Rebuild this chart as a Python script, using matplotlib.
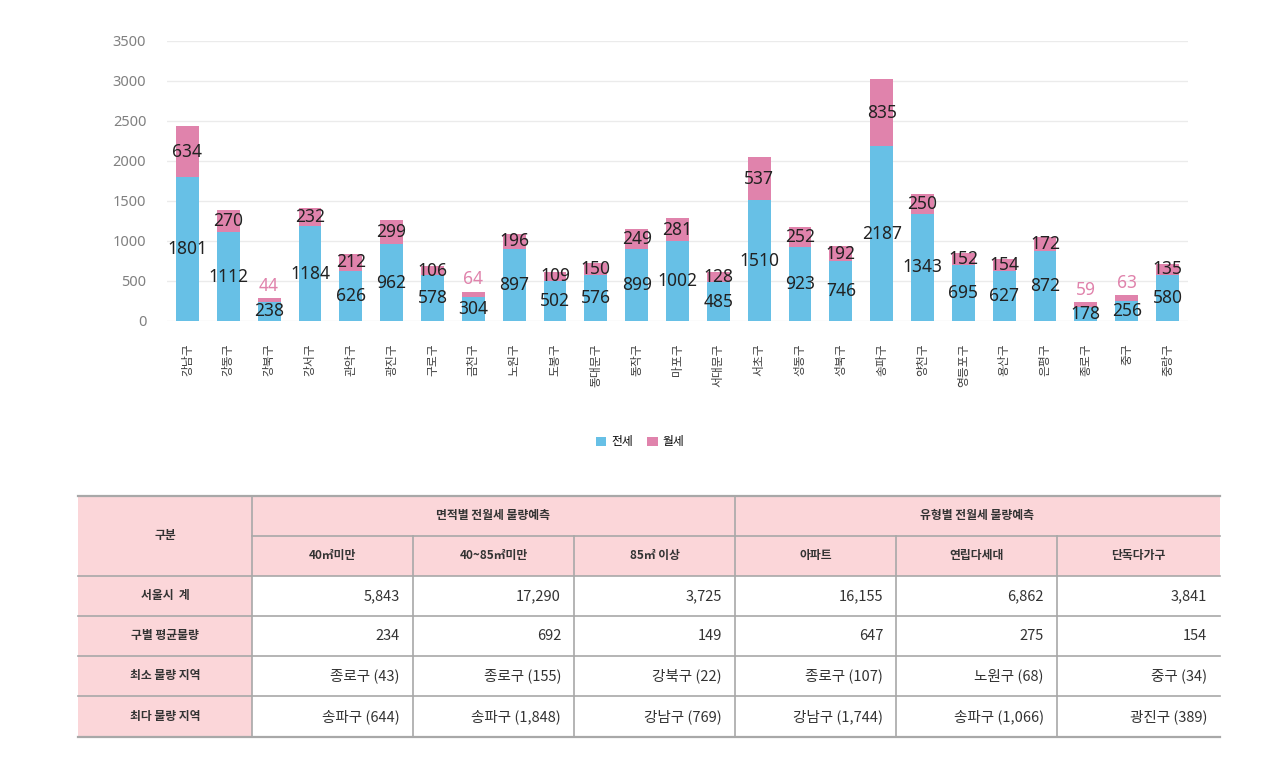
import matplotlib
matplotlib.use("Agg")
import matplotlib.pyplot as plt
from matplotlib.patches import Rectangle
import numpy as np

plt.rcParams['font.family'] = ['Noto Sans CJK KR', 'DejaVu Sans']

districts = ['강남구', '강동구', '강북구', '강서구', '관악구', '광진구', '구로구', '금천구',
             '노원구', '도봉구', '동대문구', '동작구', '마포구', '서대문구', '서초구', '성동구',
             '성북구', '송파구', '양천구', '영등포구', '용산구', '은평구', '종로구', '중구', '중랑구']
jeonse = [1801, 1112, 238, 1184, 626, 962, 578, 304, 897, 502, 576, 899, 1002, 485,
          1510, 923, 746, 2187, 1343, 695, 627, 872, 178, 256, 580]
wolse = [634, 270, 44, 232, 212, 299, 106, 64, 196, 109, 150, 249, 281, 128,
         537, 252, 192, 835, 250, 152, 154, 172, 59, 63, 135]
series_names = ['전세', '월세']
yticks = [0, 500, 1000, 1500, 2000, 2500, 3000, 3500]

table_group_headers = ['구분', '면적별 전월세 물량예측', '유형별 전월세 물량예측']
table_sub_headers = ['40㎡미만', '40~85㎡미만', '85㎡ 이상', '아파트', '연립다세대', '단독다가구']
table_row_labels = ['서울시  계', '구별 평균물량', '최소 물량 지역', '최다 물량 지역']
table_cells = [
    ['5,843', '17,290', '3,725', '16,155', '6,862', '3,841'],
    ['234', '692', '149', '647', '275', '154'],
    ['종로구 (43)', '종로구 (155)', '강북구 (22)', '종로구 (107)', '노원구 (68)', '중구 (34)'],
    ['송파구 (644)', '송파구 (1,848)', '강남구 (769)', '강남구 (1,744)', '송파구 (1,066)', '광진구 (389)'],
]

BLUE = '#67C0E6'
PINK = '#E083AC'
W, H = 1280, 773

fig = plt.figure(figsize=(W / 100, H / 100), dpi=100)
ax = fig.add_axes([167 / W, 1 - 321 / H, (1188 - 167) / W, 280 / H])

x = np.arange(len(districts))
j = np.array(jeonse)
w = np.array(wolse)
ax.bar(x, j, width=0.56, color=BLUE, label=series_names[0], zorder=2)
ax.bar(x, w, width=0.56, bottom=j, color=PINK, label=series_names[1], zorder=2)

lab_font = dict(family=['Noto Sans', 'DejaVu Sans'], fontsize=12.5)
for xi, a, b in zip(x, j, w):
    ax.text(xi, a / 2, str(a), ha='center', va='center', color='#222222', zorder=3, **lab_font)
    if b < 80:
        ax.text(xi, a + b + 40, str(b), ha='center', va='bottom', color=PINK, zorder=3, **lab_font)
    else:
        ax.text(xi, a + b / 2, str(b), ha='center', va='center', color='#222222', zorder=3, **lab_font)

ax.set_xlim(-0.5, len(districts) - 0.5)
ax.set_ylim(0, 3500)
ax.set_yticks(yticks)
ax.set_yticklabels([str(t) for t in yticks], family=['Noto Sans', 'DejaVu Sans'], fontsize=10.5, color='#808080')
ax.set_xticks(x)
ax.set_xticklabels(districts, rotation=90, fontsize=8.5, color='#404040')
ax.tick_params(axis='both', length=0)
ax.tick_params(axis='x', pad=16)
ax.tick_params(axis='y', pad=15)
ax.grid(axis='y', color='#EBEBEB', linewidth=1, zorder=0)
for s in ax.spines.values():
    s.set_visible(False)

fig.legend(loc='center', bbox_to_anchor=(640 / W, 1 - 442 / H), ncol=2, frameon=False,
           fontsize=8.5, handlelength=0.9, handleheight=0.9, handletextpad=0.4, columnspacing=1.2)

# table
tax = fig.add_axes([0, 0, 1, 1])
tax.set_xlim(0, W)
tax.set_ylim(H, 0)
tax.axis('off')

col_x = [78, 252, 413, 574, 735, 896, 1057, 1220]
row_y = [496, 536, 576, 616, 656, 696, 737]
HEAD_BG = '#FBD6D9'
LINE = '#A8A8A8'

tax.add_patch(Rectangle((col_x[0], row_y[0]), col_x[-1] - col_x[0], row_y[2] - row_y[0], color=HEAD_BG, lw=0))
tax.add_patch(Rectangle((col_x[0], row_y[2]), col_x[1] - col_x[0], row_y[-1] - row_y[2], color=HEAD_BG, lw=0))

tax.plot([col_x[0], col_x[-1]], [row_y[0], row_y[0]], color=LINE, lw=1.6)
tax.plot([col_x[1], col_x[-1]], [row_y[1], row_y[1]], color=LINE, lw=1.2)
for yy in row_y[2:-1]:
    tax.plot([col_x[0], col_x[-1]], [yy, yy], color=LINE, lw=1.2)
tax.plot([col_x[0], col_x[-1]], [row_y[-1], row_y[-1]], color=LINE, lw=1.6)
tax.plot([col_x[1], col_x[1]], [row_y[0], row_y[-1]], color=LINE, lw=1.2)
tax.plot([col_x[4], col_x[4]], [row_y[0], row_y[-1]], color=LINE, lw=1.2)
for c in [2, 3, 5, 6]:
    tax.plot([col_x[c], col_x[c]], [row_y[1], row_y[-1]], color=LINE, lw=1.2)

hfont = dict(fontsize=8.5, fontweight='bold', color='#333333')
tax.text((col_x[0] + col_x[1]) / 2, (row_y[0] + row_y[2]) / 2, table_group_headers[0], ha='center', va='center', **hfont)
tax.text((col_x[1] + col_x[4]) / 2, (row_y[0] + row_y[1]) / 2, table_group_headers[1], ha='center', va='center', **hfont)
tax.text((col_x[4] + col_x[7]) / 2, (row_y[0] + row_y[1]) / 2, table_group_headers[2], ha='center', va='center', **hfont)
for c, t in enumerate(table_sub_headers):
    tax.text((col_x[c + 1] + col_x[c + 2]) / 2, (row_y[1] + row_y[2]) / 2, t, ha='center', va='center', **hfont)
for r, t in enumerate(table_row_labels):
    tax.text((col_x[0] + col_x[1]) / 2, (row_y[r + 2] + row_y[r + 3]) / 2, t, ha='center', va='center', **hfont)
for r, row in enumerate(table_cells):
    for c, t in enumerate(row):
        tax.text(col_x[c + 2] - 13, (row_y[r + 2] + row_y[r + 3]) / 2, t, ha='right', va='center',
                 fontsize=10.5, color='#333333', family=['Noto Sans CJK KR', 'DejaVu Sans'])

fig.savefig('out.png', dpi=100)
